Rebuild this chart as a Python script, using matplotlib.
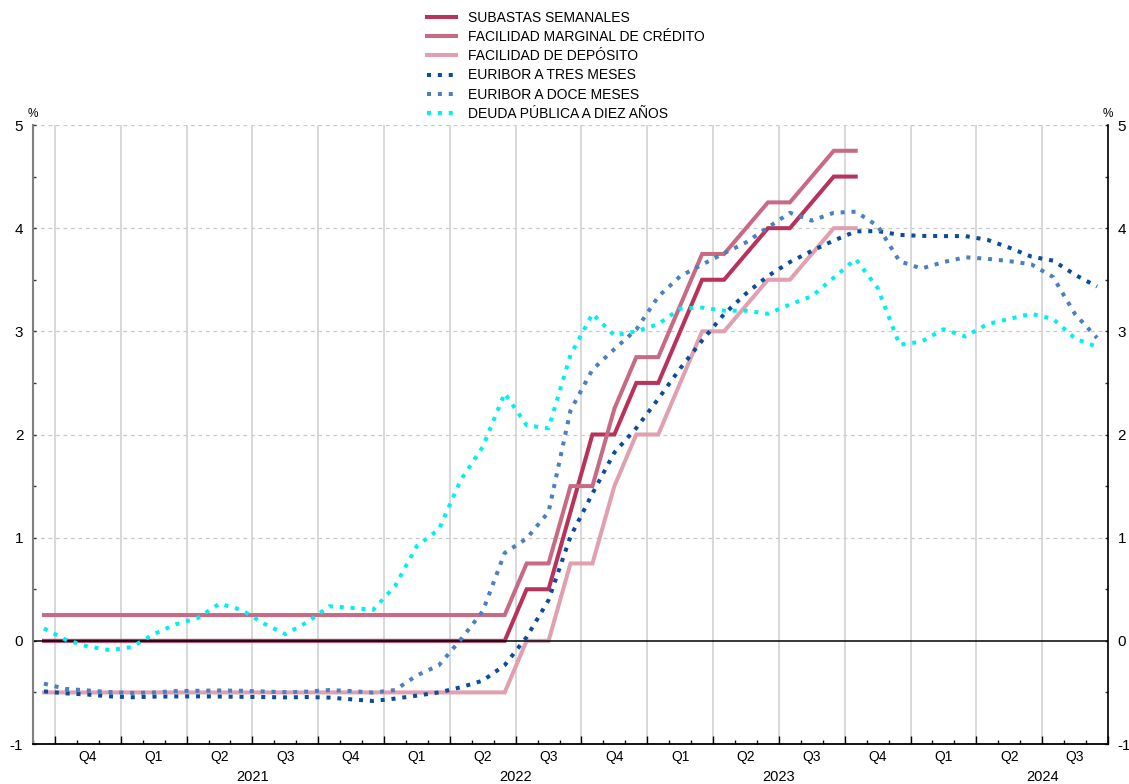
import numpy as np
import matplotlib
matplotlib.use('Agg')
from matplotlib import pyplot as plt
from matplotlib.transforms import blended_transform_factory

plt.rcParams['font.family'] = ['Liberation Sans', 'DejaVu Sans']
plt.rcParams['axes.unicode_minus'] = False

# monthly data, Sep 2020 onwards
subastas = [0.0, 0.0, 0.0, 0.0,
            0.0, 0.0, 0.0, 0.0, 0.0, 0.0, 0.0, 0.0, 0.0, 0.0, 0.0, 0.0,
            0.0, 0.0, 0.0, 0.0, 0.0, 0.0, 0.5, 0.5, 1.25, 2.0, 2.0, 2.5,
            2.5, 3.0, 3.5, 3.5, 3.75, 4.0, 4.0, 4.25, 4.5, 4.5]
marginal = [0.25, 0.25, 0.25, 0.25,
            0.25, 0.25, 0.25, 0.25, 0.25, 0.25, 0.25, 0.25, 0.25, 0.25, 0.25, 0.25,
            0.25, 0.25, 0.25, 0.25, 0.25, 0.25, 0.75, 0.75, 1.5, 1.5, 2.25, 2.75,
            2.75, 3.25, 3.75, 3.75, 4.0, 4.25, 4.25, 4.5, 4.75, 4.75]
deposito = [-0.5, -0.5, -0.5, -0.5,
            -0.5, -0.5, -0.5, -0.5, -0.5, -0.5, -0.5, -0.5, -0.5, -0.5, -0.5, -0.5,
            -0.5, -0.5, -0.5, -0.5, -0.5, -0.5, 0.0, 0.0, 0.75, 0.75, 1.5, 2.0,
            2.0, 2.5, 3.0, 3.0, 3.25, 3.5, 3.5, 3.75, 4.0, 4.0]
euribor3 = [-0.490, -0.509, -0.521, -0.538,
            -0.547, -0.541, -0.539, -0.538, -0.540, -0.543, -0.545, -0.548, -0.545, -0.550, -0.567, -0.583,
            -0.560, -0.531, -0.500, -0.450, -0.386, -0.236, 0.036, 0.395, 1.011, 1.428, 1.825, 2.063,
            2.345, 2.640, 2.911, 3.167, 3.366, 3.536, 3.671, 3.780, 3.880, 3.969, 3.972, 3.935,
            3.925, 3.923, 3.923, 3.887, 3.811, 3.725, 3.685, 3.548, 3.434]
euribor12 = [-0.415, -0.466, -0.481, -0.497,
             -0.505, -0.501, -0.487, -0.484, -0.481, -0.484, -0.491, -0.498, -0.492, -0.477, -0.487, -0.502,
             -0.477, -0.335, -0.237, 0.013, 0.287, 0.852, 0.992, 1.249, 2.233, 2.629, 2.828, 3.018,
             3.337, 3.534, 3.647, 3.757, 3.862, 4.007, 4.149, 4.073, 4.149, 4.160, 4.022, 3.679,
             3.609, 3.671, 3.718, 3.703, 3.680, 3.650, 3.526, 3.166, 2.936]
deuda10 = [0.12, 0.01, -0.055, -0.09,
           -0.06, 0.065, 0.16, 0.22, 0.36, 0.30, 0.17, 0.065, 0.18, 0.335, 0.32, 0.30,
           0.53, 0.92, 1.08, 1.56, 1.88, 2.40, 2.09, 2.06, 2.77, 3.17, 2.96, 3.00,
           3.07, 3.22, 3.23, 3.20, 3.20, 3.17, 3.26, 3.34, 3.52, 3.70, 3.42, 2.87,
           2.90, 3.02, 2.95, 3.07, 3.12, 3.17, 3.12, 2.93, 2.85]

quarters = ['Q4', 'Q1', 'Q2', 'Q3', 'Q4', 'Q1', 'Q2', 'Q3', 'Q4',
            'Q1', 'Q2', 'Q3', 'Q4', 'Q1', 'Q2', 'Q3']
years = ['2021', '2022', '2023', '2024']

labels = ['SUBASTAS SEMANALES', 'FACILIDAD MARGINAL DE CRÉDITO', 'FACILIDAD DE DEPÓSITO',
          'EURIBOR A TRES MESES', 'EURIBOR A DOCE MESES', 'DEUDA PÚBLICA A DIEZ AÑOS']

fig = plt.figure(figsize=(11.29, 7.84), dpi=100)
ax = fig.add_axes([33 / 1129, 40 / 784, 1075 / 1129, 619 / 784])

x_ecb = np.arange(len(subastas)) + 0.5
x_mkt = np.arange(len(euribor3)) + 0.5
lw = 2.9
dots = (0, (1, 1.7))

ax.plot(x_ecb, subastas, color='#b8325a', lw=lw, solid_joinstyle='miter', zorder=2.2, label=labels[0])
ax.plot(x_ecb, marginal, color='#c96a84', lw=lw, solid_joinstyle='miter', zorder=2.3, label=labels[1])
ax.plot(x_ecb, deposito, color='#e1a0b0', lw=lw, solid_joinstyle='miter', zorder=2.1, label=labels[2])
ax.axhline(0, color='black', lw=1.1, zorder=2.5)
ax.plot(x_mkt, euribor3, color='#0b4c9c', lw=lw, ls=dots, dash_capstyle='butt', zorder=3, label=labels[3])
ax.plot(x_mkt, euribor12, color='#4b80c0', lw=lw, ls=dots, dash_capstyle='butt', zorder=3, label=labels[4])
ax.plot(x_mkt, deuda10, color='#00f0f0', lw=lw, ls=dots, dash_capstyle='butt', zorder=3, label=labels[5])

ax.set_xlim(0, 49)
ax.set_ylim(-1, 5)

ax.set_xticks(np.arange(1, 50, 3))
ax.set_xticks(np.arange(0, 50, 1), minor=True)
ax.set_xticklabels([])
ax.set_yticks(np.arange(-1, 6, 1))
ax.set_yticks(np.arange(-1, 5.5, 0.5), minor=True)
ax.set_yticklabels(['-1', '0', '1', '2', '3', '4', '5'])

ax.tick_params(axis='x', which='major', direction='in', length=6, width=1, color='black', top=False)
ax.tick_params(axis='x', which='minor', direction='in', length=3, width=1, color='black', top=False)
ax.tick_params(axis='y', which='both', direction='in', length=2.5, width=1, color='#333333',
               left=True, right=True, labelleft=True, labelright=True, labelsize=11, pad=7)

ax.xaxis.grid(True, which='major', color='#d2d2d2', lw=1.2, zorder=1)
for yv in range(1, 6):
    ax.axhline(yv, color='#c8c8c8', lw=0.9, ls=(0, (3, 3)), zorder=1)

ax.spines['top'].set_visible(False)
ax.spines['left'].set_color('#808080')
ax.spines['left'].set_linewidth(1.5)
ax.spines['right'].set_color('black')
ax.spines['right'].set_linewidth(1.2)
ax.spines['bottom'].set_color('black')
ax.spines['bottom'].set_linewidth(1.3)

trans = blended_transform_factory(ax.transData, ax.transAxes)
for i, q in enumerate(quarters):
    ax.text(2.5 + 3 * i, -0.021, q, transform=trans, ha='center', va='center', fontsize=10)
for i, yr in enumerate(years):
    ax.text(10 + 12 * i, -0.053, yr, transform=trans, ha='center', va='center', fontsize=10.5,
            clip_on=False)

ax.text(0, 1.008, '%', transform=ax.transAxes, ha='center', va='bottom', fontsize=8.5)
ax.text(1, 1.008, '%', transform=ax.transAxes, ha='center', va='bottom', fontsize=8.5)

fig.legend(loc='upper left', bbox_to_anchor=(427 / 1129, 1 - 11 / 784), frameon=False,
           fontsize=10, handlelength=2.1, handletextpad=0.85, labelspacing=0.37,
           borderpad=0, borderaxespad=0)

fig.savefig('out.png', dpi=100)
